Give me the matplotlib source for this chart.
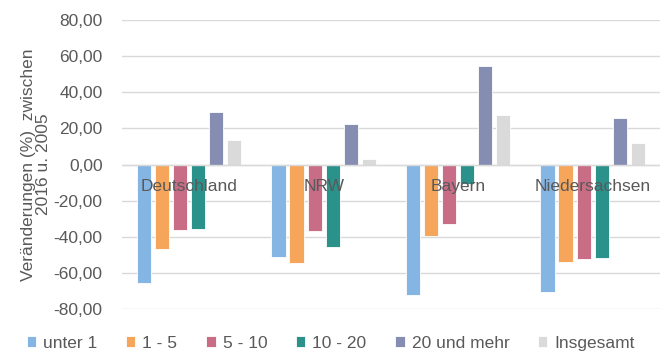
import numpy as np
import matplotlib
matplotlib.use("Agg")
import matplotlib.pyplot as plt

plt.rcParams['font.family'] = ['Liberation Sans', 'DejaVu Sans']

regions = ["Deutschland", "NRW", "Bayern", "Niedersachsen"]
series = ["unter 1", "1 - 5", "5 - 10", "10 - 20", "20 und mehr", "Insgesamt"]

# Veränderung in % je Größenklasse (ha), 2016 ggü. 2005
unter_1 = [-65.6, -51.3, -72.5, -70.6]
v_1_5 = [-47.0, -54.5, -39.8, -53.8]
v_5_10 = [-36.5, -37.0, -32.8, -52.2]
v_10_20 = [-35.6, -45.5, -11.0, -51.8]
v_20_mehr = [28.8, 22.7, 54.6, 25.8]
insgesamt = [13.3, 3.1, 27.3, 11.8]

values = [unter_1, v_1_5, v_5_10, v_10_20, v_20_mehr, insgesamt]
colors = ["#85B5E3", "#F5A65B", "#C96C86", "#2A918B", "#858EB2", "#DADADA"]

text_col = "#595959"
grid_col = "#D9D9D9"

fig = plt.figure(figsize=(6.68, 3.54), dpi=100)
ax = fig.add_axes([0.1826, 0.1271, 0.8054, 0.8164])

x = np.arange(len(regions))
step = 0.134
for i, (name, vals, c) in enumerate(zip(series, values, colors)):
    ax.bar(x + (i - 2.5) * step, vals, width=step * 0.8, color=c,
           edgecolor="white", linewidth=0.6, label=name, zorder=3)

ax.set_xlim(-0.5, len(regions) - 0.5)
ax.set_ylim(-80, 80)
ax.set_yticks(np.arange(-80, 81, 20))
ax.set_yticklabels([f"{v:.2f}".replace(".", ",") for v in np.arange(-80, 81, 20)])
ax.tick_params(axis="y", length=0, pad=14, labelsize=12.5, labelcolor=text_col)
ax.set_xticks([])
ax.grid(axis="y", color=grid_col, linewidth=1.0, zorder=0)
ax.axhline(0, color=grid_col, linewidth=1.0, zorder=4)
for s in ax.spines.values():
    s.set_visible(False)

# Kategorienbeschriftung direkt unter der Nulllinie
for xi, name in zip(x, regions):
    ax.text(xi, -12, name, ha="center", va="center", fontsize=12.5,
            color=text_col, zorder=5)

ax.set_ylabel("Veränderungen (%)  zwischen\n2016 u. 2005", fontsize=12.5,
              color=text_col, labelpad=2, linespacing=1.0)

leg = fig.legend(loc="lower center", bbox_to_anchor=(0.495, -0.035), ncol=6,
                 frameon=False, fontsize=12.5, handlelength=0.55,
                 handleheight=0.55, handletextpad=0.4, columnspacing=1.65)
for t in leg.get_texts():
    t.set_color(text_col)

fig.savefig("out.png", dpi=100)
